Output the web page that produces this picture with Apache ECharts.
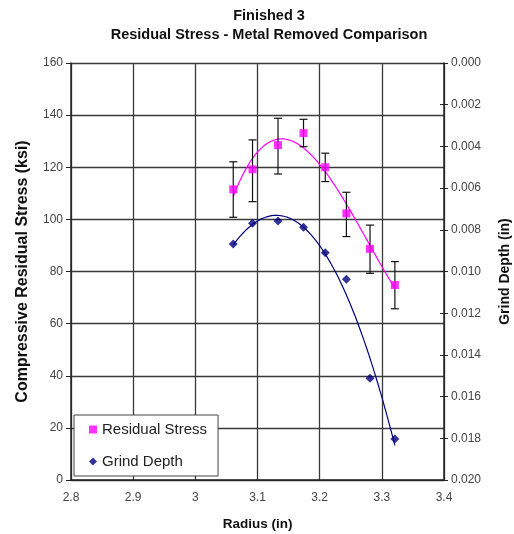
<!DOCTYPE html>
<html>
<head>
<meta charset="utf-8">
<script src="https://cdn.jsdelivr.net/npm/echarts@6/dist/echarts.min.js"></script>
<style>
  html, body { margin: 0; padding: 0; background: #fff; }
  #chart { width: 514px; height: 534px; }
</style>
</head>
<body>
<div id="chart"></div>
<script>
// Measured radius positions (in)
const radius = [3.061, 3.092, 3.133, 3.174, 3.209, 3.243, 3.281, 3.321];
// Compressive residual stress (ksi) with error bar limits
const stress = [111.5, 119.2, 128.5, 133.1, 120.0, 102.3, 88.7, 74.8];
const stressHigh = [122.1, 130.5, 138.8, 138.4, 125.4, 110.4, 97.8, 83.8];
const stressLow = [100.8, 106.8, 117.4, 127.9, 114.5, 93.4, 79.3, 65.7];
// Grind depth (in)
const depth = [0.00868, 0.00769, 0.00758, 0.00788, 0.00910, 0.01037, 0.01512, 0.01803];

// Axis ranges
const radiusRange = [2.8, 3.4, 0.1];
const stressRange = [0, 160, 20];
const depthRange = [0, 0.02, 0.002];

// Polynomial trendline orders
const stressOrder = 3;
const depthOrder = 3;

// Least-squares polynomial fit (x centred for stability)
function polyFit(xs, ys, order) {
  const mx = xs.reduce((a, b) => a + b, 0) / xs.length;
  const n = order + 1;
  const A = [];
  for (let i = 0; i < n; i++) {
    A.push(new Array(n + 1).fill(0));
  }
  xs.forEach((x, k) => {
    const t = x - mx;
    for (let i = 0; i < n; i++) {
      for (let j = 0; j < n; j++) A[i][j] += Math.pow(t, i + j);
      A[i][n] += ys[k] * Math.pow(t, i);
    }
  });
  for (let c = 0; c < n; c++) {
    let p = c;
    for (let r = c + 1; r < n; r++) if (Math.abs(A[r][c]) > Math.abs(A[p][c])) p = r;
    [A[c], A[p]] = [A[p], A[c]];
    for (let r = 0; r < n; r++) {
      if (r === c) continue;
      const f = A[r][c] / A[c][c];
      for (let j = c; j <= n; j++) A[r][j] -= f * A[c][j];
    }
  }
  const coef = A.map((row, i) => row[n] / row[i]);
  return x => coef.reduce((s, c, i) => s + c * Math.pow(x - mx, i), 0);
}

function trendline(xs, ys, order) {
  const f = polyFit(xs, ys, order);
  const x0 = Math.min(...xs), x1 = Math.max(...xs);
  const pts = [];
  const steps = 80;
  for (let i = 0; i <= steps; i++) {
    const x = x0 + (x1 - x0) * i / steps;
    pts.push([x, f(x)]);
  }
  return pts;
}

const stressPoints = radius.map((r, i) => [r, stress[i]]);
const depthPoints = radius.map((r, i) => [r, depth[i]]);
const errorBars = radius.map((r, i) => [r, stressLow[i], stressHigh[i]]);

const FONT = 'Liberation Sans, Arial, sans-serif';
const gridColor = '#3a3a3a';

const chart = echarts.init(document.getElementById('chart'), null, { renderer: 'canvas' });

chart.setOption({
  backgroundColor: '#ffffff',
  animation: false,
  textStyle: { fontFamily: FONT },
  title: {
    text: 'Finished 3\nResidual Stress - Metal Removed Comparison',
    left: 264,
    top: 1,
    textAlign: 'center',
    textStyle: { fontFamily: FONT, fontSize: 14.5, fontWeight: 'bold', color: '#111', lineHeight: 19 }
  },
  grid: { left: 71, right: 70, top: 63, bottom: 54, outerBoundsMode: 'none', containLabel: false },
  legend: {
    orient: 'vertical',
    left: 74,
    top: 415,
    data: [
      { name: 'Residual Stress', icon: 'rect' },
      { name: 'Grind Depth', icon: 'diamond' }
    ],
    itemWidth: 8,
    itemHeight: 8,
    itemGap: 17,
    padding: [7, 11, 7, 15],
    backgroundColor: '#ffffff',
    borderColor: '#444',
    borderWidth: 1,
    borderRadius: 0,
    textStyle: { fontFamily: FONT, fontSize: 15, color: '#222' }
  },
  xAxis: {
    type: 'value',
    min: radiusRange[0],
    max: radiusRange[1],
    interval: radiusRange[2],
    name: 'Radius (in)',
    nameLocation: 'middle',
    nameGap: 37,
    nameTextStyle: { fontFamily: FONT, fontSize: 13.5, fontWeight: 'bold', color: '#111' },
    axisLine: { lineStyle: { color: '#222', width: 1.5 } },
    axisTick: { show: false },
    axisLabel: { fontFamily: FONT, fontSize: 12, color: '#444', margin: 12,
      formatter: v => String(Math.round(v * 10) / 10) },
    splitLine: { show: true, lineStyle: { color: gridColor, width: 1.3 } }
  },
  yAxis: [
    {
      type: 'value',
      min: stressRange[0],
      max: stressRange[1],
      interval: stressRange[2],
      name: 'Compressive Residual Stress (ksi)',
      nameLocation: 'middle',
      nameGap: 40,
      nameRotate: 90,
      nameTextStyle: { fontFamily: FONT, fontSize: 16, fontWeight: 'bold', color: '#111' },
      axisLine: { show: true, lineStyle: { color: '#222', width: 1.5 } },
      axisTick: { show: true, length: 5, lineStyle: { color: '#222' } },
      axisLabel: { fontFamily: FONT, fontSize: 12, color: '#444', margin: 8 },
      splitLine: { show: true, lineStyle: { color: gridColor, width: 1.3 } }
    },
    {
      type: 'value',
      position: 'right',
      inverse: true,
      min: depthRange[0],
      max: depthRange[1],
      interval: depthRange[2],
      name: 'Grind Depth (in)',
      nameLocation: 'middle',
      nameGap: 54,
      nameRotate: 90,
      nameTextStyle: { fontFamily: FONT, fontSize: 14, fontWeight: 'bold', color: '#111' },
      axisLine: { show: true, lineStyle: { color: '#222', width: 1.5 } },
      axisTick: { show: true, length: 4, lineStyle: { color: '#222' } },
      axisLabel: { fontFamily: FONT, fontSize: 12, color: '#444', margin: 7,
        formatter: v => v.toFixed(3) },
      splitLine: { show: false }
    },
    {
      // inner half of the crossing ticks on the depth axis
      type: 'value',
      position: 'right',
      inverse: true,
      min: depthRange[0],
      max: depthRange[1],
      interval: depthRange[2],
      axisLine: { show: false },
      axisTick: { show: true, inside: true, length: 4, lineStyle: { color: '#222' } },
      axisLabel: { show: false },
      splitLine: { show: false }
    }
  ],
  series: [
    {
      name: 'Residual Stress trend',
      type: 'line',
      yAxisIndex: 0,
      data: trendline(radius, stress, stressOrder),
      showSymbol: false,
      lineStyle: { color: '#ff00ff', width: 1.2 },
      z: 3,
      silent: true
    },
    {
      name: 'Grind Depth trend',
      type: 'line',
      yAxisIndex: 1,
      data: trendline(radius, depth, depthOrder),
      showSymbol: false,
      lineStyle: { color: '#000080', width: 1.2 },
      z: 3,
      silent: true
    },
    {
      name: 'Stress error',
      type: 'custom',
      yAxisIndex: 0,
      data: errorBars,
      encode: { x: 0, y: [1, 2] },
      z: 4,
      renderItem: (params, api) => {
        const x = api.value(0);
        const lo = api.coord([x, api.value(1)]);
        const hi = api.coord([x, api.value(2)]);
        const cap = 4;
        const style = { stroke: '#111', lineWidth: 1.2 };
        return {
          type: 'group',
          children: [
            { type: 'line', shape: { x1: lo[0], y1: lo[1], x2: hi[0], y2: hi[1] }, style },
            { type: 'line', shape: { x1: hi[0] - cap, y1: hi[1], x2: hi[0] + cap, y2: hi[1] }, style },
            { type: 'line', shape: { x1: lo[0] - cap, y1: lo[1], x2: lo[0] + cap, y2: lo[1] }, style }
          ]
        };
      }
    },
    {
      name: 'Residual Stress',
      type: 'scatter',
      yAxisIndex: 0,
      data: stressPoints,
      symbol: 'rect',
      symbolSize: 8,
      itemStyle: { color: '#ff00ff' },
      z: 5
    },
    {
      name: 'Grind Depth',
      type: 'scatter',
      yAxisIndex: 1,
      data: depthPoints,
      symbol: 'diamond',
      symbolSize: 9,
      itemStyle: { color: '#000080' },
      z: 5
    }
  ]
});
</script>
</body>
</html>
